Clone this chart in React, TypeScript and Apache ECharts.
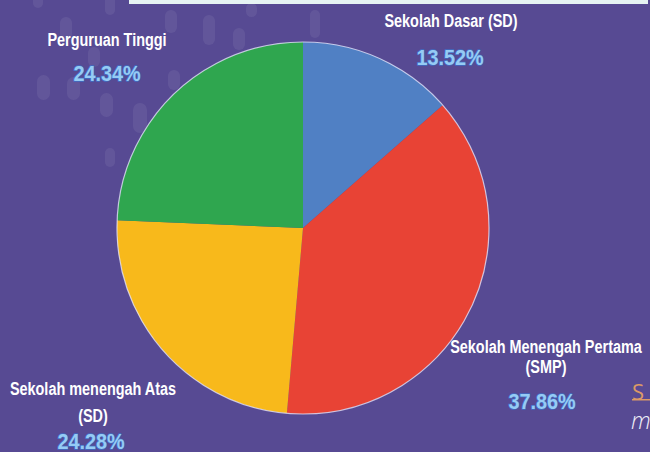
import React, { useEffect, useRef } from "react";
import * as echarts from "echarts";

const categories = [
  "Sekolah Dasar (SD)",
  "Sekolah Menengah Pertama\n(SMP)",
  "Sekolah menengah Atas\n(SD)",
  "Perguruan Tinggi",
];
const values = [13.52, 37.86, 24.28, 24.34];
const percentLabels = ["13.52%", "37.86%", "24.28%", "24.34%"];
const colors = ["#5080c4", "#e84335", "#f8b91b", "#2fa64f"];

// label placement: center x and line centre y for each name line, then percent
const labelSpots = [
  { x: 451, ys: [21], px: 450, py: 57 },
  { x: 546, ys: [347, 367], px: 542, py: 401 },
  { x: 93, ys: [389, 416], px: 91, py: 441 },
  { x: 107, ys: [40], px: 107, py: 73 },
];

const drops = [
  [33, -4, 10, 12], [105, -4, 10, 19], [60, 17, 12, 23], [165, 10, 12, 23],
  [203, 15, 12, 30], [233, 28, 12, 22], [246, 3, 11, 14], [310, 10, 10, 28],
  [88, 47, 12, 20], [37, 75, 13, 25], [67, 77, 13, 23], [100, 93, 13, 24],
  [133, 103, 14, 30], [168, 70, 12, 20], [105, 148, 10, 19],
];

const NAME_FONT = 'bold 19px "Liberation Sans", Arial, sans-serif';
const PCT_FONT = 'bold 22px "Liberation Sans", Arial, sans-serif';

export default function App() {
  const ref = useRef<HTMLDivElement>(null);
  useEffect(() => {
    document.body.style.margin = "0";
    const chart = echarts.init(ref.current!, null, { renderer: "svg" });
    const labelTexts: any[] = [];
    labelSpots.forEach((s, i) => {
      const lines = categories[i].split("\n");
      lines.forEach((l, j) => {
        labelTexts.push({
          type: "text",
          z: 20,
          x: s.x,
          y: s.ys[j],
          scaleX: 0.76,
          style: {
            text: l,
            fill: "#ffffff",
            font: NAME_FONT,
            textAlign: "center",
            textVerticalAlign: "middle",
          },
        });
      });
      labelTexts.push({
        type: "text",
        z: 20,
        x: s.px,
        y: s.py,
        scaleX: 0.9,
        style: {
          text: percentLabels[i],
          fill: "#96cbf4",
          stroke: "#3f6cc2",
          lineWidth: 1.4,
          font: PCT_FONT,
          textAlign: "center",
          textVerticalAlign: "middle",
        },
      });
    });
    chart.setOption({
      animation: false,
      backgroundColor: "#574a93",
      graphic: [
        ...drops.map(([x, y, w, h]) => ({
          type: "rect",
          z: -10,
          shape: { x, y, width: w, height: h, r: w / 2 },
          style: { fill: "rgba(255,255,255,0.07)" },
        })),
        {
          type: "rect",
          z: 10,
          shape: { x: 129, y: 0, width: 519, height: 4 },
          style: { fill: "#e6f3f3" },
        },
        {
          type: "text",
          z: 10,
          x: 632,
          y: 380,
          style: {
            text: "S",
            fill: "#dc9a66",
            font: '22px "Open Sans", sans-serif',
          },
        },
        {
          type: "rect",
          z: 10,
          shape: { x: 632, y: 399, width: 18, height: 1.5 },
          style: { fill: "#dc9a66" },
        },
        {
          type: "text",
          z: 10,
          x: 631,
          y: 408,
          style: {
            text: "m",
            fill: "#f0f0f8",
            font: 'italic 300 23px "Open Sans", sans-serif',
          },
        },
        ...labelTexts,
      ],
      series: [
        {
          type: "pie",
          center: [303, 228],
          radius: 186,
          startAngle: 90,
          clockwise: true,
          silent: true,
          itemStyle: { borderWidth: 0 },
          label: { show: false },
          labelLine: { show: false },
          data: categories.map((c, i) => ({
            name: c.replace("\n", " "),
            value: values[i],
            itemStyle: { color: colors[i] },
          })),
        },
        {
          type: "pie",
          center: [303, 228],
          radius: 186,
          silent: true,
          z: 3,
          label: { show: false },
          labelLine: { show: false },
          itemStyle: {
            color: "rgba(0,0,0,0)",
            borderColor: "rgba(235,235,255,0.75)",
            borderWidth: 1.2,
          },
          data: [{ value: 1, name: "outline" }],
        },
      ],
    });
    return () => chart.dispose();
  }, []);
  return <div ref={ref} style={{ width: 650, height: 452 }} />;
}
